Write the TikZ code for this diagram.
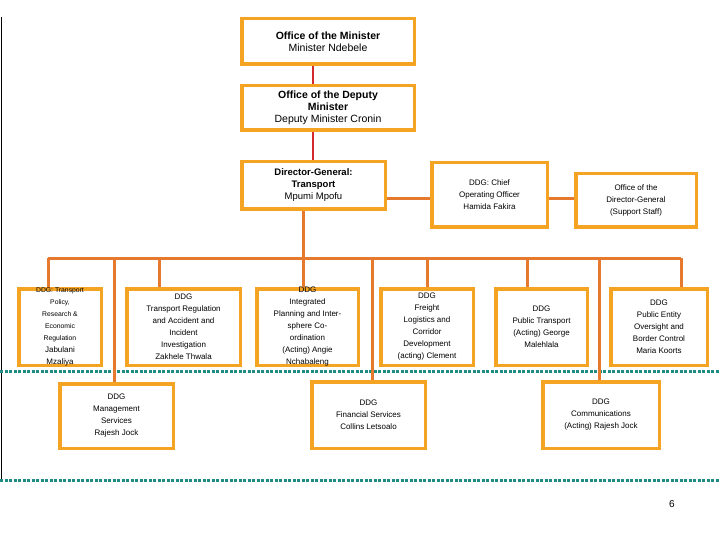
\documentclass[tikz,border=0pt]{standalone}
\usepackage{fontspec}
\setmainfont{Liberation Sans}
\definecolor{bx}{HTML}{F5A322}
\definecolor{ln}{HTML}{E57A2E}
\definecolor{rd}{HTML}{D42A2A}
\definecolor{tl}{HTML}{1F8C84}
\begin{document}
\begin{tikzpicture}[x=1pt,y=-1pt,
  box/.style={draw=bx,line width=3.5pt,fill=white,inner sep=0pt},
  txt/.style={align=center,inner sep=0pt,font=\fontsize{9.5}{12}\selectfont},
  stxt/.style={txt,font=\fontsize{8}{12}\selectfont},
  con/.style={draw=ln,line width=3pt}]
\useasboundingbox (0,0) rectangle (720,540);
\draw[black,line width=1pt] (1,17) -- (1,480);
\newcommand{\bx}[6]{\node[box,minimum width=#3-#1-3.5,minimum height=#4-#2-3.5] (#5) at ({(#1+#3)/2},{(#2+#4)/2}) {}; \node[#6] (#5t) at (#5.center)}
\bx{240}{17}{416}{66}{min}{txt}{\textbf{\fontsize{10.5}{13}\selectfont Office of the Minister}\\ \fontsize{10.5}{13}\selectfont Minister Ndebele};
\bx{240}{84}{416}{132}{dep}{txt}{\fontsize{10.5}{13}\selectfont\textbf{Office of the Deputy}\\ \fontsize{10.5}{13}\selectfont\textbf{Minister}\\ \fontsize{10.5}{13}\selectfont Deputy Minister Cronin};
\bx{240}{160}{387}{211}{dg}{txt}{\textbf{Director-General:}\\ \textbf{Transport}\\ Mpumi Mpofu};
\bx{430}{161}{549}{229}{coo}{stxt}{DDG: Chief\\ Operating Officer\\ Hamida Fakira};
\bx{574}{172}{698}{229}{odg}{stxt}{Office of the\\ Director-General\\ (Support Staff)};
\bx{17}{287}{103}{367}{pol}{stxt}{\fontsize{6.8}{10.6}\selectfont DDG: Transport\\ \fontsize{6.8}{10.6}\selectfont Policy,\\ \fontsize{6.8}{10.6}\selectfont Research \&\\ \fontsize{6.8}{10.6}\selectfont Economic\\ \fontsize{6.8}{10.6}\selectfont Regulation\\ Jabulani\\ Mzaliya};
\bx{125}{287}{242}{367}{tr}{stxt}{DDG\\ Transport Regulation\\ and Accident and\\ Incident\\ Investigation\\ Zakhele Thwala};
\bx{255}{287}{360}{367}{ip}{stxt}{DDG\\ Integrated\\ Planning and Inter-\\ sphere Co-\\ ordination\\ (Acting) Angie\\ Nchabaleng};
\bx{379}{287}{475}{367}{fr}{stxt}{DDG\\ Freight\\ Logistics and\\ Corridor\\ Development\\ (acting) Clement};
\bx{494}{287}{589}{367}{pt}{stxt}{DDG\\ Public Transport\\ (Acting) George\\ Malehlala};
\bx{609}{287}{709}{367}{pe}{stxt}{DDG\\ Public Entity\\ Oversight and\\ Border Control\\ Maria Koorts};
\draw[tl,line width=3pt,dash pattern=on 3pt off 1.5pt] (0,371) -- (720,371);
\draw[tl,line width=3pt,dash pattern=on 3pt off 1.5pt] (0,480) -- (720,480);
\bx{58}{382}{175}{450}{ms}{stxt}{DDG\\ Management\\ Services\\ Rajesh Jock};
\bx{310}{380}{427}{450}{fs}{stxt}{DDG\\ Financial Services\\ Collins Letsoalo};
\bx{541}{380}{661}{450}{cm}{stxt}{DDG\\ Communications\\ (Acting) Rajesh Jock};
\coordinate (bus) at (303,258);
\draw[rd,line width=2.5pt] (min.south -| 313,0) -- (dep.north -| 313,0) (dep.south -| 313,0) -- (dg.north -| 313,0);
\draw[con] (dg.south -| bus) -- (bus);
\draw[con] (48,258) -- (681,258);
\foreach \n/\x in {pol/48,tr/159,ip/303,fr/427,pt/527,pe/681}{\draw[con] (\x,258) -- (\n.north -| \x,0);}
\foreach \n/\x in {ms/114,fs/372,cm/599}{\draw[con] (\x,258) -- (\n.north -| \x,0);}
\draw[con] (dg.east |- 0,199) -- (coo.west |- 0,199);
\draw[con] (coo.east |- 0,199) -- (odg.west |- 0,199);
\node[font=\fontsize{10}{12}\selectfont] (pg) at (672,504) {6};
\end{tikzpicture}
\end{document}
